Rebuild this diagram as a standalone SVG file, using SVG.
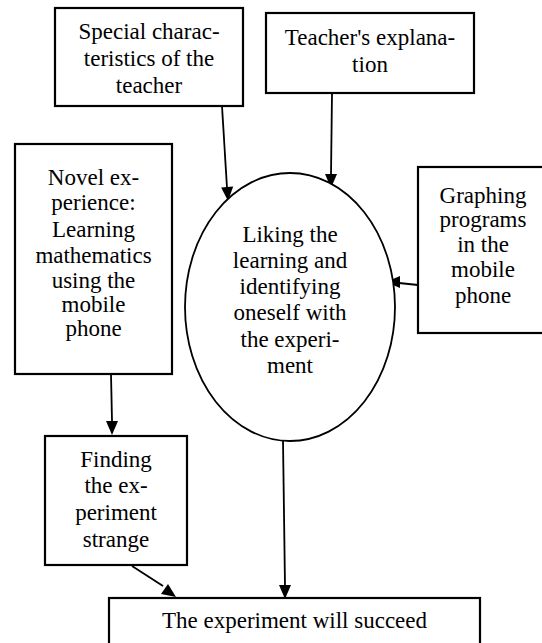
<svg xmlns="http://www.w3.org/2000/svg" width="542" height="643" viewBox="0 0 542 643">
<style>
.box{fill:#fff;stroke:#000;stroke-width:2.2}
.ell{fill:#fff;stroke:#000;stroke-width:1.8}
.ln{stroke:#000;stroke-width:1.8;fill:none}
</style>
<rect width="542" height="643" fill="#fff"/>
<g id="connectors">
<line class="ln" x1="222" y1="106" x2="227" y2="188"/>
<path d="M228,201 l-6.8,-13.6 l12,-0.8 z" fill="#000"/>
<line class="ln" x1="332" y1="93" x2="331" y2="175"/>
<path d="M331,188 l-6,-14 l12,0 z" fill="#000"/>
<line class="ln" x1="418" y1="285" x2="399" y2="283"/>
<path d="M386,282 l14,-6 l0,12 z" fill="#000"/>
<line class="ln" x1="111" y1="374" x2="112" y2="421"/>
<path d="M112,435 l-6,-14 l12,0 z" fill="#000"/>
<line class="ln" x1="283" y1="441" x2="285" y2="586"/>
<path d="M285,599 l-6,-14 l12,0 z" fill="#000"/>
<line class="ln" x1="132" y1="566" x2="163" y2="586"/>
<path d="M176,597 l-15,-3 l7,-10 z" fill="#000"/>
</g>
<g font-family="Liberation Serif, DejaVu Serif, serif" font-size="23" text-anchor="middle" fill="#000">
<g id="n-special">
<rect class="box" x="55" y="8" width="188" height="98"/>
<text x="149" y="39">Special charac-</text>
<text x="149" y="66">teristics of the</text>
<text x="149" y="93">teacher</text>
</g>
<g id="n-explanation">
<rect class="box" x="266" y="13" width="208" height="80"/>
<text x="370" y="45">Teacher's explana-</text>
<text x="370" y="72">tion</text>
</g>
<g id="n-novel">
<rect class="box" x="15" y="144" width="157" height="230"/>
<text x="93.5" y="185">Novel ex-</text>
<text x="93.5" y="210">perience:</text>
<text x="93.5" y="237">Learning</text>
<text x="93.5" y="263">mathematics</text>
<text x="93.5" y="288">using the</text>
<text x="93.5" y="312">mobile</text>
<text x="93.5" y="336">phone</text>
</g>
<g id="n-liking">
<ellipse class="ell" cx="290" cy="307" rx="105" ry="134"/>
<text x="290" y="242">Liking the</text>
<text x="290" y="268">learning and</text>
<text x="290" y="294">identifying</text>
<text x="290" y="320">oneself with</text>
<text x="290" y="347">the experi-</text>
<text x="290" y="373">ment</text>
</g>
<g id="n-graphing">
<rect class="box" x="418" y="167" width="132" height="166"/>
<text x="483" y="203">Graphing</text>
<text x="483" y="227">programs</text>
<text x="483" y="252">in the</text>
<text x="483" y="277">mobile</text>
<text x="483" y="303">phone</text>
</g>
<g id="n-finding">
<rect class="box" x="45" y="436" width="142" height="129"/>
<text x="116" y="467">Finding</text>
<text x="116" y="493">the ex-</text>
<text x="116" y="520">periment</text>
<text x="116" y="547">strange</text>
</g>
<g id="n-succeed">
<rect class="box" x="109" y="598" width="371" height="60"/>
<text x="294.5" y="628">The experiment will succeed</text>
</g>
</g>
</svg>
